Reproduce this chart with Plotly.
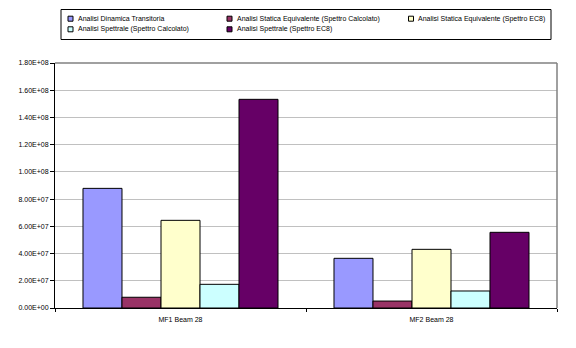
import plotly.graph_objects as go

# ---- data ----
categories = ["MF1 Beam 28", "MF2 Beam 28"]
series_names = [
    "Analisi Dinamica Transitoria",
    "Analisi Statica Equivalente (Spettro Calcolato)",
    "Analisi Statica Equivalente (Spettro EC8)",
    "Analisi Spettrale (Spettro Calcolato)",
    "Analisi Spettrale (Spettro EC8)",
]
dinamica = [8.79e7, 3.65e7]
statica_calc = [7.9e6, 5.1e6]
statica_ec8 = [6.44e7, 4.31e7]
spettrale_calc = [1.74e7, 1.25e7]
spettrale_ec8 = [1.533e8, 5.56e7]
series_values = [dinamica, statica_calc, statica_ec8, spettrale_calc, spettrale_ec8]
y_tickvals = [i * 2e7 for i in range(10)]
y_ticktext = [f"{v:.2E}" for v in y_tickvals]

# ---- style ----
colors = ["#9999FF", "#993366", "#FFFFCC", "#CCFFFF", "#660066"]
W, H = 576, 348
L, R, T, B = 55, 19, 63, 40
PW, PH = W - L - R, H - T - B
FONT = "Liberation Sans"

def px_x(p):
    return (p - L) / PW

def px_y(p):
    return (H - B - p) / PH

fig = go.Figure()
for name, vals, c in zip(series_names, series_values, colors):
    fig.add_trace(go.Bar(
        x=categories, y=vals, name=name,
        marker=dict(color=c, line=dict(color="black", width=1)),
        showlegend=False,
    ))

fig.update_layout(
    width=W, height=H,
    margin=dict(l=L, r=R, t=T, b=B, pad=0),
    paper_bgcolor="white", plot_bgcolor="white",
    barmode="group", bargap=0.223, bargroupgap=0,
    font=dict(family=FONT, size=7, color="black"),
)
fig.update_xaxes(
    type="category", tickson="boundaries", ticks="outside", ticklen=3,
    tickcolor="black", showline=True, linecolor="black", linewidth=1,
    showgrid=False, tickfont=dict(size=7, color="black"), ticklabelstandoff=5,
)
fig.update_yaxes(
    range=[0, 1.8e8], tickvals=y_tickvals, ticktext=y_ticktext,
    ticks="outside", ticklen=4, tickcolor="black",
    showline=True, linecolor="black", linewidth=1,
    showgrid=True, gridcolor="#C0C0C0", gridwidth=1, zeroline=False,
    tickfont=dict(size=7, color="black"),
)

# top & right plot-area border (grey)
fig.add_shape(type="line", xref="paper", yref="paper", x0=0, x1=1, y0=1, y1=1,
              line=dict(color="#808080", width=1.5), layer="above")
fig.add_shape(type="line", xref="paper", yref="paper", x0=1, x1=1, y0=0, y1=1,
              line=dict(color="#808080", width=1.5), layer="above")

# ---- manual legend ----
leg_box = (61, 9.5, 551, 39.5)
fig.add_shape(type="rect", xref="paper", yref="paper",
              x0=px_x(leg_box[0]), x1=px_x(leg_box[2]),
              y0=px_y(leg_box[3]), y1=px_y(leg_box[1]),
              line=dict(color="black", width=1), fillcolor="white", layer="above")
leg_pos = [(70.5, 18.7), (229.5, 18.7), (411, 18.7), (70.5, 29.3), (229.5, 29.3)]
for (cx, cy), name, c in zip(leg_pos, series_names, colors):
    fig.add_shape(type="rect", xref="paper", yref="paper",
                  x0=px_x(cx - 2.5), x1=px_x(cx + 2.5),
                  y0=px_y(cy + 2.5), y1=px_y(cy - 2.5),
                  line=dict(color="black", width=1), fillcolor=c, layer="above")
    fig.add_annotation(x=px_x(cx + 5), y=px_y(cy), xref="paper", yref="paper",
                       text=name, showarrow=False, xanchor="left", yanchor="middle",
                       font=dict(size=7, family=FONT, color="black"))

fig.write_html("out.html")
